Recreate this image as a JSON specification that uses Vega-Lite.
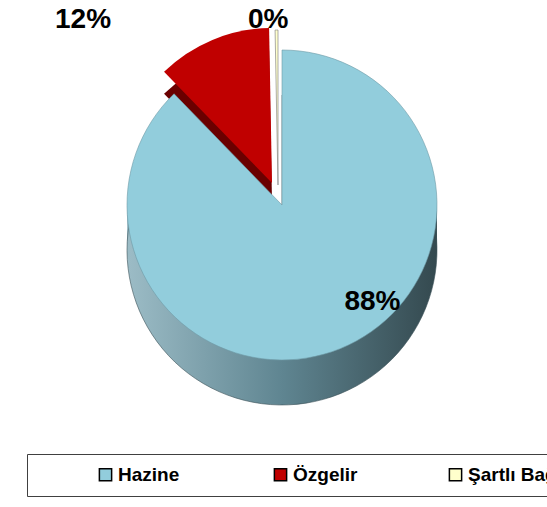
{
  "$schema": "https://vega.github.io/schema/vega-lite/v6.json",
  "width": 564,
  "height": 410,
  "autosize": {"type": "none"},
  "padding": {"left": 0, "top": 0, "right": 0, "bottom": 97},
  "background": "white",
  "config": {"view": {"stroke": null}, "font": "Liberation Sans"},
  "data": {"values": [
    {"k": "Hazine", "v": 88, "t": "88%"},
    {"k": "Özgelir", "v": 12, "t": "12%"},
    {"k": "Şartlı Bağış", "v": 0.3, "t": "0%"}
  ]},
  "layer": [
    {
      "mark": {"type": "arc", "radius": 155, "yOffset": 15, "fill": {"gradient": "linear", "x1": 0, "x2": 1, "y1": 0, "y2": 0, "stops": [{"offset": 0, "color": "#9cbcc6"}, {"offset": 0.5, "color": "#5f8591"}, {"offset": 1, "color": "#34494f"}]}},
      "encoding": {"theta": {"field": "v", "type": "quantitative", "stack": true}, "order": {"field": "k", "type": "ordinal"}, "opacity": {"condition": {"test": "datum.k === 'Hazine'", "value": 1}, "value": 0}}
    },
    {
      "mark": {"type": "arc", "radius": 155, "yOffset": 30, "fill": {"gradient": "linear", "x1": 0, "x2": 1, "y1": 0, "y2": 0, "stops": [{"offset": 0, "color": "#9cbcc6"}, {"offset": 0.5, "color": "#5f8591"}, {"offset": 1, "color": "#34494f"}]}},
      "encoding": {"theta": {"field": "v", "type": "quantitative", "stack": true}, "order": {"field": "k", "type": "ordinal"}, "opacity": {"condition": {"test": "datum.k === 'Hazine'", "value": 1}, "value": 0}}
    },
    {
      "mark": {"type": "arc", "radius": 155, "yOffset": 45, "fill": {"gradient": "linear", "x1": 0, "x2": 1, "y1": 0, "y2": 0, "stops": [{"offset": 0, "color": "#9cbcc6"}, {"offset": 0.5, "color": "#5f8591"}, {"offset": 1, "color": "#34494f"}]}, "stroke": "#3a5058", "strokeWidth": 0.6},
      "encoding": {"theta": {"field": "v", "type": "quantitative", "stack": true}, "order": {"field": "k", "type": "ordinal"}, "opacity": {"condition": {"test": "datum.k === 'Hazine'", "value": 1}, "value": 0}}
    },
    {
      "mark": {"type": "arc", "radius": 155, "xOffset": -10, "yOffset": 0, "fill": "#6a0000"},
      "encoding": {"theta": {"field": "v", "type": "quantitative", "stack": true}, "order": {"field": "k", "type": "ordinal"}, "opacity": {"condition": {"test": "datum.k === 'Özgelir'", "value": 1}, "value": 0}}
    },
    {
      "mark": {"type": "arc", "radius": 155, "xOffset": -10, "yOffset": 23, "fill": "#6a0000"},
      "encoding": {"theta": {"field": "v", "type": "quantitative", "stack": true}, "order": {"field": "k", "type": "ordinal"}, "opacity": {"condition": {"test": "datum.k === 'Özgelir'", "value": 1}, "value": 0}}
    },
    {
      "mark": {"type": "arc", "radius": 155, "stroke": "#6f9aa6", "strokeWidth": 0.6},
      "encoding": {
        "theta": {"field": "v", "type": "quantitative", "stack": true},
        "order": {"field": "k", "type": "ordinal"},
        "color": {
          "field": "k", "type": "nominal",
          "scale": {"domain": ["Hazine", "Özgelir", "Şartlı Bağış"], "range": ["#92CDDC", "#C00000", "#FFFFCC"]},
          "legend": {
            "orient": "none", "legendX": 27, "legendY": 454, "direction": "horizontal",
            "title": " ", "titleOrient": "left", "titlePadding": 58, "titleFontSize": 10,
            "gridAlign": "all", "columnPadding": 48,
            "symbolType": "square", "symbolSize": 150, "symbolStrokeColor": "#000", "symbolStrokeWidth": 1.5, "symbolOpacity": 1,
            "labelFont": "Liberation Sans", "labelFontSize": 19, "labelFontWeight": "bold", "labelColor": "#000", "labelLimit": 300, "labelOffset": 3,
            "strokeColor": "#404040", "fillColor": "#ffffff", "padding": 11
          }
        },
        "opacity": {"condition": {"test": "datum.k === 'Hazine'", "value": 1}, "value": 0}
      }
    },
    {
      "mark": {"type": "arc", "radius": 155, "xOffset": -10, "yOffset": -22},
      "encoding": {
        "theta": {"field": "v", "type": "quantitative", "stack": true},
        "order": {"field": "k", "type": "ordinal"},
        "color": {"field": "k", "type": "nominal"},
        "opacity": {"condition": {"test": "datum.k === 'Özgelir'", "value": 1}, "value": 0}
      }
    },
    {
      "mark": {"type": "arc", "radius": 155, "xOffset": -4, "yOffset": -20, "stroke": "#888888", "strokeWidth": 0.7},
      "encoding": {
        "theta": {"field": "v", "type": "quantitative", "stack": true},
        "order": {"field": "k", "type": "ordinal"},
        "color": {"field": "k", "type": "nominal"},
        "opacity": {"condition": {"test": "datum.k === 'Şartlı Bağış'", "value": 1}, "value": 0}
      }
    },
    {
      "mark": {"type": "text", "radius": 105, "dx": 51, "font": "Liberation Sans", "fontSize": 28, "fontWeight": "bold", "color": "#000", "baseline": "middle"},
      "encoding": {
        "theta": {"field": "v", "type": "quantitative", "stack": true},
        "order": {"field": "k", "type": "ordinal"},
        "text": {"field": "t"},
        "opacity": {"condition": {"test": "datum.k === 'Hazine'", "value": 1}, "value": 0}
      }
    },
    {
      "mark": {"type": "text", "radius": 195, "dx": -124, "dy": -5, "font": "Liberation Sans", "fontSize": 28, "fontWeight": "bold", "color": "#000", "baseline": "middle"},
      "encoding": {
        "theta": {"field": "v", "type": "quantitative", "stack": true},
        "order": {"field": "k", "type": "ordinal"},
        "text": {"field": "t"},
        "opacity": {"condition": {"test": "datum.k === 'Özgelir'", "value": 1}, "value": 0}
      }
    },
    {
      "mark": {"type": "text", "radius": 185, "dx": -12, "font": "Liberation Sans", "fontSize": 28, "fontWeight": "bold", "color": "#000", "baseline": "middle"},
      "encoding": {
        "theta": {"field": "v", "type": "quantitative", "stack": true},
        "order": {"field": "k", "type": "ordinal"},
        "text": {"field": "t"},
        "opacity": {"condition": {"test": "datum.k === 'Şartlı Bağış'", "value": 1}, "value": 0}
      }
    }
  ]
}
